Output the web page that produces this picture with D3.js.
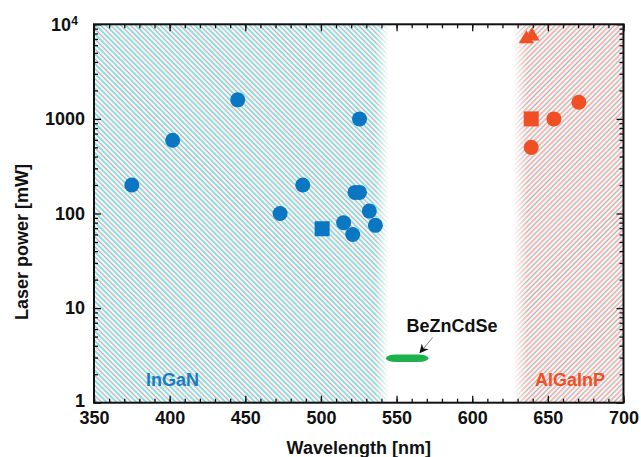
<html>
<head>
  <meta charset="utf8">
  <title>Laser power vs wavelength</title>
  <style>
  * { margin: 0; padding: 0; }
  body { background: #fff; }
  text { font-family: "Liberation Sans", Arial, sans-serif; font-weight: bold; }
  </style>
</head>
<body>
  <script src="https://cdn.jsdelivr.net/npm/d3@7"></script>
  <script>
  //Size
  var w = 641;
  var h = 457;
  var margin = { top: 24.3, right: 17.5, bottom: 54.3, left: 94 };

  //Data: InGaN lasers (blue)
  var inganWl    = [375, 402, 445, 473, 488, 515, 521, 522.5, 525.5, 525.5, 532, 536];
  var inganPower = [200, 595, 1590, 100, 200, 80, 60, 167, 167, 1000, 106, 75];
  var inganSqWl = [500.8];
  var inganSqPower = [69];

  //AlGaInP lasers (red)
  var algaWl    = [639, 654, 670.5];
  var algaPower = [500, 1000, 1500];
  var algaSqWl = [639];
  var algaSqPower = [1000];
  var algaTriWl = [639.5, 635.8];
  var algaTriPower = [7500, 7000];

  //BeZnCdSe band
  var bznWl = [543, 571];
  var bznPower = 2.95;

  //Regions
  var inganRegion = [350, 545];
  var algaRegion = [627, 700];

  //Ticks
  var xMajor = [350, 400, 450, 500, 550, 600, 650, 700];
  var yMajor = [1, 10, 100, 1000, 10000];
  var yLabels = ["1", "10", "100", "1000", "10"];

  //Colours
  var blue = "#0b76c1";
  var red = "#f04e23";
  var green = "#1db14b";

  var svg = d3.select("body").append("svg")
    .attr("width", w)
    .attr("height", h);

  var xScale = d3.scaleLinear()
    .domain([350, 700])
    .range([margin.left, w - margin.right]);
  var yScale = d3.scaleLog()
    .domain([1, 10000])
    .range([h - margin.bottom, margin.top]);

  var defs = svg.append("defs");

  //Hatch patterns
  function hatch(id, angle, c1, c2) {
    var p = defs.append("pattern")
      .attr("id", id)
      .attr("patternUnits", "userSpaceOnUse")
      .attr("width", 7)
      .attr("height", 7)
      .attr("patternTransform", "rotate(" + angle + ")");
    p.append("line").attr("x1", 1).attr("x2", 1).attr("y1", 0).attr("y2", 7)
      .attr("stroke", c1).attr("stroke-width", 1.5);
    p.append("line").attr("x1", 4.5).attr("x2", 4.5).attr("y1", 0).attr("y2", 7)
      .attr("stroke", c2).attr("stroke-width", 1.5);
  }
  hatch("hatchBlue", -45, "#66d2d8", "#b0b8b8");
  hatch("hatchRed", 45, "#f3a09b", "#b8b0b0");

  //Fading masks at the inner edges
  function fadeMask(id, x0, x1, fadeLeft) {
    var g = defs.append("linearGradient")
      .attr("id", id + "Grad")
      .attr("gradientUnits", "userSpaceOnUse")
      .attr("x1", x0).attr("x2", x1).attr("y1", 0).attr("y2", 0);
    var fade = 14 / (x1 - x0);
    if (fadeLeft) {
      g.append("stop").attr("offset", 0).attr("stop-color", "#000");
      g.append("stop").attr("offset", fade).attr("stop-color", "#fff");
      g.append("stop").attr("offset", 1).attr("stop-color", "#fff");
    } else {
      g.append("stop").attr("offset", 0).attr("stop-color", "#fff");
      g.append("stop").attr("offset", 1 - fade).attr("stop-color", "#fff");
      g.append("stop").attr("offset", 1).attr("stop-color", "#000");
    }
    defs.append("mask").attr("id", id)
      .append("rect")
      .attr("x", x0).attr("width", x1 - x0)
      .attr("y", margin.top).attr("height", h - margin.top - margin.bottom)
      .attr("fill", "url(#" + id + "Grad)");
  }
  fadeMask("maskBlue", xScale(inganRegion[0]), xScale(inganRegion[1]), false);
  fadeMask("maskRed", xScale(algaRegion[0]), xScale(algaRegion[1]), true);

  svg.append("rect")
    .attr("x", xScale(inganRegion[0]))
    .attr("width", xScale(inganRegion[1]) - xScale(inganRegion[0]))
    .attr("y", yScale(10000))
    .attr("height", yScale(1) - yScale(10000))
    .attr("fill", "url(#hatchBlue)")
    .attr("mask", "url(#maskBlue)");
  svg.append("rect")
    .attr("x", xScale(algaRegion[0]))
    .attr("width", xScale(algaRegion[1]) - xScale(algaRegion[0]))
    .attr("y", yScale(10000))
    .attr("height", yScale(1) - yScale(10000))
    .attr("fill", "url(#hatchRed)")
    .attr("mask", "url(#maskRed)");

  //Axes
  var axisH = h - margin.bottom;
  var xMinor = d3.range(350, 701, 10);
  var yMinor = [];
  [1, 10, 100, 1000].forEach(function(d) {
    for (var k = 2; k < 10; k++) yMinor.push(d * k);
  });

  function styleAxis(g) {
    g.select(".domain").remove();
    g.selectAll("line").attr("stroke", "#111").attr("stroke-width", 1.3);
    g.selectAll("text").attr("font-size", 18).attr("fill", "#111")
      .attr("font-family", "'Liberation Sans', Arial, sans-serif");
  }

  svg.append("g").attr("transform", "translate(0," + axisH + ")")
    .call(d3.axisBottom(xScale).tickValues(xMinor).tickSize(-4).tickFormat(""))
    .call(styleAxis);
  svg.append("g").attr("transform", "translate(0," + axisH + ")")
    .call(d3.axisBottom(xScale).tickValues(xMajor).tickSize(-7).tickPadding(9).tickFormat(d3.format("d")))
    .call(styleAxis);
  svg.append("g").attr("transform", "translate(0," + margin.top + ")")
    .call(d3.axisTop(xScale).tickValues(xMinor).tickSize(-4).tickFormat(""))
    .call(styleAxis);
  svg.append("g").attr("transform", "translate(0," + margin.top + ")")
    .call(d3.axisTop(xScale).tickValues(xMajor).tickSize(-7).tickFormat(""))
    .call(styleAxis);

  svg.append("g").attr("transform", "translate(" + margin.left + ",0)")
    .call(d3.axisLeft(yScale).tickValues(yMinor).tickSize(-4).tickFormat(""))
    .call(styleAxis);
  var yAx = svg.append("g").attr("transform", "translate(" + margin.left + ",0)")
    .call(d3.axisLeft(yScale).tickValues(yMajor).tickSize(-7).tickPadding(9)
      .tickFormat(function(d, i) { return yLabels[i]; }))
    .call(styleAxis);
  yAx.selectAll(".tick").filter(function(d) { return d === 10000; })
    .select("text")
    .attr("dx", "-0.4em")
    .append("tspan").attr("dy", "-0.45em").attr("font-size", 12).text("4");
  yAx.selectAll(".tick").filter(function(d) { return d === 1; })
    .select("text")
    .attr("dy", "0.22em");
  svg.append("g").attr("transform", "translate(" + (w - margin.right) + ",0)")
    .call(d3.axisRight(yScale).tickValues(yMinor).tickSize(-4).tickFormat(""))
    .call(styleAxis);
  svg.append("g").attr("transform", "translate(" + (w - margin.right) + ",0)")
    .call(d3.axisRight(yScale).tickValues(yMajor).tickSize(-7).tickFormat(""))
    .call(styleAxis);

  //Frame
  svg.append("rect")
    .attr("x", margin.left).attr("y", margin.top)
    .attr("width", w - margin.left - margin.right)
    .attr("height", h - margin.top - margin.bottom)
    .attr("fill", "none").attr("stroke", "#111").attr("stroke-width", 2);

  //Axis titles
  svg.append("text")
    .attr("x", xScale(525)).attr("y", 454)
    .attr("text-anchor", "middle").attr("font-size", 18).attr("fill", "#111")
    .text("Wavelength [nm]");
  svg.append("text")
    .attr("transform", "translate(28," + yScale(50) + ") rotate(-90)")
    .attr("text-anchor", "middle").attr("font-size", 18).attr("fill", "#111")
    .text("Laser power [mW]");

  //BeZnCdSe band
  svg.append("rect")
    .attr("x", xScale(bznWl[0])).attr("width", xScale(bznWl[1]) - xScale(bznWl[0]))
    .attr("y", yScale(bznPower) - 3.8).attr("height", 7.6)
    .attr("rx", 10).attr("ry", 3.8)
    .attr("fill", green);

  //Markers
  function points(wl, pw, type, size, color) {
    svg.append("g").selectAll("path")
      .data(d3.zip(wl, pw))
      .enter()
      .append("path")
      .attr("d", d3.symbol(type, size))
      .attr("transform", function(d) {
        return "translate(" + xScale(d[0]) + "," + yScale(d[1]) + ")";
      })
      .attr("fill", color);
  }
  points(inganWl, inganPower, d3.symbolCircle, 177, blue);
  points(inganSqWl, inganSqPower, d3.symbolSquare, 225, blue);
  points(algaWl, algaPower, d3.symbolCircle, 177, red);
  points(algaSqWl, algaSqPower, d3.symbolSquare, 225, red);
  points(algaTriWl, algaTriPower, d3.symbolTriangle, 100, red);

  //Labels
  svg.append("text")
    .attr("x", xScale(384.4)).attr("y", yScale(1.5))
    .attr("font-size", 18).attr("fill", "#1a7cc4")
    .text("InGaN");
  svg.append("text")
    .attr("x", xScale(641.5)).attr("y", yScale(1.5))
    .attr("font-size", 18).attr("fill", red)
    .text("AlGaInP");
  svg.append("text")
    .attr("x", xScale(586.6)).attr("y", yScale(5.55))
    .attr("text-anchor", "middle")
    .attr("font-size", 18).attr("fill", "#111")
    .text("BeZnCdSe");

  //Arrow
  defs.append("marker")
    .attr("id", "arrowHead")
    .attr("viewBox", "0 0 10 10")
    .attr("refX", 9).attr("refY", 5)
    .attr("markerWidth", 9).attr("markerHeight", 9)
    .attr("markerUnits", "userSpaceOnUse")
    .attr("orient", "auto")
    .append("path")
    .attr("d", "M0,0 L10,5 L0,10 L3,5 Z")
    .attr("fill", "#111");
  svg.append("line")
    .attr("x1", xScale(573.9)).attr("y1", yScale(4.9))
    .attr("x2", xScale(565.5)).attr("y2", yScale(3.38))
    .attr("stroke", "#666").attr("stroke-width", 0.8)
    .attr("marker-end", "url(#arrowHead)");
  </script>
</body>
</html>
